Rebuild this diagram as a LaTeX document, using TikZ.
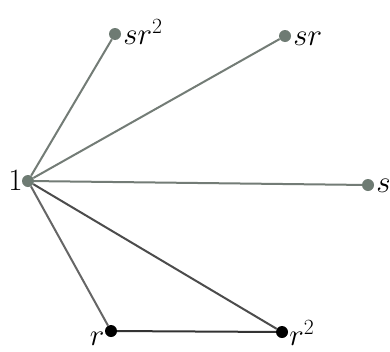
\documentclass[tikz,border=0pt]{standalone}
\usepackage{fix-cm}
\usepackage{tikz}
\usetikzlibrary{positioning}

\definecolor{vgray}{HTML}{6E7B73}
\definecolor{egray}{HTML}{737C76}

\begin{document}
\begin{tikzpicture}[
    x=1pt, y=-1pt,
    vertex/.style={circle, fill=vgray, inner sep=0pt, minimum size=12pt},
    bvertex/.style={circle, fill=black, inner sep=0pt, minimum size=12pt},
    edge/.style={draw=egray, line width=2pt},
    every label/.style={font=\fontsize{31}{36}\selectfont, inner sep=2pt}
]
\useasboundingbox[fill=white] (0,0) rectangle (390,351);

% Vertices
\node[vertex, label={[xshift=3pt]left:$1$}] (e) at (28,181) {};
\node[vertex, label={[yshift=2pt]right:$sr^2$}] (sr2) at (115,34) {};
\node[vertex, label={[yshift=-3pt]right:$sr$}] (sr) at (285,36) {};
\node[vertex, label={[yshift=-1pt]right:$s$}] (s) at (368,185) {};
\node[bvertex, label={[inner sep=0pt, xshift=-2pt, yshift=3pt]below left:$r$}] (r) at (111,331) {};
\node[bvertex, label={[inner sep=1pt, yshift=-1pt]right:$r^2$}] (r2) at (282,332) {};

% Edges
\draw[edge] (e) -- (sr2);
\draw[edge] (e) -- (sr);
\draw[edge] (e) -- (s);
\draw[edge, draw=black!60] (e) -- (r);
\draw[edge, draw=black!70] (e) -- (r2);
\draw[edge, draw=black!80] (r) -- (r2);

\end{tikzpicture}
\end{document}
